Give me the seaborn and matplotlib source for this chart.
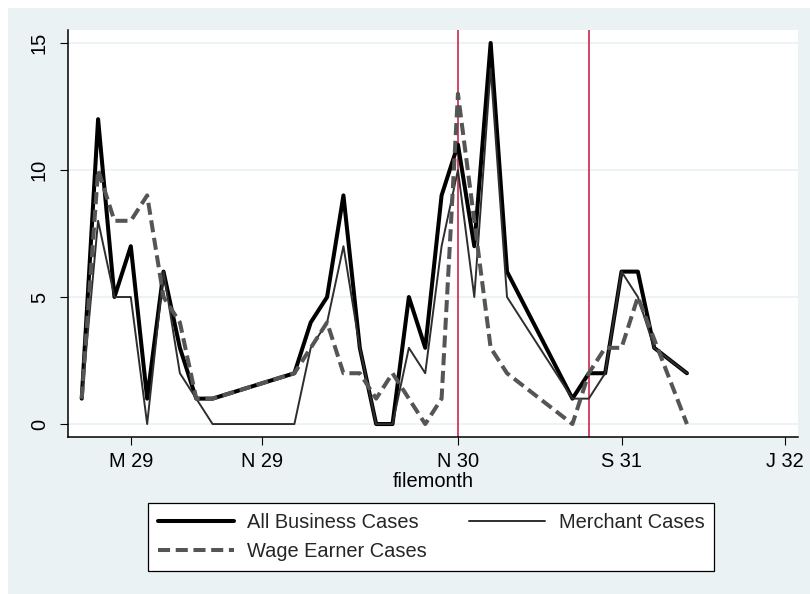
import numpy as np
import pandas as pd
import matplotlib
matplotlib.use("Agg")
import matplotlib.pyplot as plt
import seaborn as sns
from matplotlib.patches import Rectangle

# ---------------- data ----------------
months = ["1928-12", "1929-01", "1929-02", "1929-03", "1929-04", "1929-05",
          "1929-06", "1929-07", "1929-08", "1930-01", "1930-02", "1930-03",
          "1930-04", "1930-05", "1930-06", "1930-07", "1930-08", "1930-09",
          "1930-10", "1930-11", "1930-12", "1931-01", "1931-02", "1931-06",
          "1931-07", "1931-08", "1931-09", "1931-10", "1931-11", "1932-01"]
all_cases = [1, 12, 5, 7, 1, 6, 3, 1, 1, 2, 4, 5, 9, 3, 0, 0, 5, 3, 9, 11,
             7, 15, 6, 1, 2, 2, 6, 6, 3, 2]
merchant_cases = [1, 8, 5, 5, 0, 6, 2, 1, 0, 0, 3, 4, 7, 3, 0, 0, 3, 2, 7, 10,
                  5, 14, 5, 1, 1, 2, 6, 5, 3, 2]
wage_cases = [1, 10, 8, 8, 9, 5, 4, 1, 1, 2, 3, 4, 2, 2, 1, 2, 1, 0, 1, 13,
              8, 3, 2, 0, 2, 3, 3, 5, None, 0]
series_names = ["All Business Cases", "Merchant Cases", "Wage Earner Cases"]
tick_months = ["1929-03", "1929-11", "1930-11", "1931-09", "1932-07"]
tick_labels = ["M 29", "N 29", "N 30", "S 31", "J 32"]
vline_months = ["1930-11", "1931-07"]
y_ticks = [0, 5, 10, 15]


def mnum(s):
    y, m = map(int, s.split("-"))
    return y * 12 + m - 1


x = [mnum(m) for m in months]
df = pd.DataFrame({"x": x,
                   series_names[0]: all_cases,
                   series_names[1]: merchant_cases,
                   series_names[2]: wage_cases})
long = df.melt(id_vars="x", var_name="series", value_name="value").dropna()

# ---------------- figure ----------------
sns.set_theme(style="white")
plt.rcParams['font.family'] = ['Liberation Sans', 'DejaVu Sans']

W, H = 810, 594
fig = plt.figure(figsize=(W / 100, H / 100), dpi=100, facecolor="white")
fig.patches.append(Rectangle((8 / W, 0), 1 - 8 / W, 1 - 8 / H,
                             transform=fig.transFigure, facecolor="#EAF2F3",
                             edgecolor="none", zorder=-10))
ax = fig.add_axes([68 / W, (H - 437) / H, 730 / W, 407 / H])
ax.set_facecolor("white")

styles = {
    series_names[0]: dict(color="black", linewidth=2.9),
    series_names[1]: dict(color="#2e2e2e", linewidth=1.4),
    series_names[2]: dict(color="#555555", linewidth=2.9,
                          linestyle=(0, (3.0, 1.4))),
}
for name in series_names:
    sub = long[long["series"] == name]
    sns.lineplot(data=sub, x="x", y="value", ax=ax, estimator=None,
                 errorbar=None, sort=True, label=name, zorder=3,
                 **styles[name])

for vm in vline_months:
    ax.axvline(mnum(vm), color="#C8143C", linewidth=1.1, zorder=2)

base = mnum("1929-03")
ax.set_xlim(base - 3.84, base + 40.79)
ax.set_ylim(-0.51, 15.51)
ax.set_xticks([mnum(t) for t in tick_months])
ax.set_xticklabels(tick_labels)
ax.set_yticks(y_ticks)
ax.set_yticklabels([str(v) for v in y_ticks])

ax.yaxis.grid(True, color="#EAF2F3", linewidth=1.3)
ax.xaxis.grid(False)
ax.set_axisbelow(True)

for s in ["top", "right"]:
    ax.spines[s].set_visible(False)
for s in ["left", "bottom"]:
    ax.spines[s].set_color("black")
    ax.spines[s].set_linewidth(1.1)

ax.tick_params(axis="both", direction="out", length=5.8, width=0.8,
               color="black", labelsize=14.4, labelcolor="black")
ax.tick_params(axis="x", pad=5, bottom=True)
ax.tick_params(axis="y", pad=8, left=True, labelrotation=90)
for lbl in ax.get_yticklabels():
    lbl.set_va("center")

ax.set_xlabel("filemonth", fontsize=14.4, color="black", labelpad=1)
ax.set_ylabel("")

leg0 = ax.get_legend()
if leg0 is not None:
    leg0.remove()
handles, labels = ax.get_legend_handles_labels()
hmap = dict(zip(labels, handles))
order = [series_names[0], series_names[2], series_names[1]]
leg = fig.legend([hmap[n] for n in order], order, ncol=2, loc="upper left",
                 bbox_to_anchor=(147.6 / W, 1 - 503 / H), frameon=True,
                 fancybox=False, edgecolor="black", facecolor="white",
                 framealpha=1, fontsize=14.4, handlelength=3.8,
                 handletextpad=0.68, columnspacing=2.1, borderpad=0.5,
                 labelspacing=0.48, borderaxespad=0)
leg.get_frame().set_linewidth(0.9)

fig.savefig("out.png", dpi=100, facecolor=fig.get_facecolor())
